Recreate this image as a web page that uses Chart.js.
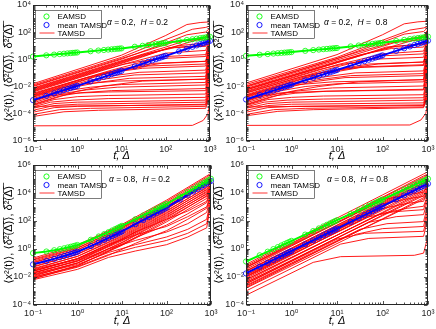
<!DOCTYPE html>
<html>
<head>
<meta charset="utf-8">
<script src="https://cdn.jsdelivr.net/npm/chart.js@4.4.1/dist/chart.umd.min.js"></script>
<style>
html,body{margin:0;padding:0;background:#ffffff;}
body{width:436px;height:329px;position:relative;overflow:hidden;}
canvas{position:absolute;}
</style>
</head>
<body>
<canvas id="pTL" width="218" height="163" style="left:0px;top:0px;width:218px;height:163px"></canvas>
<canvas id="pTR" width="226" height="163" style="left:210px;top:0px;width:226px;height:163px"></canvas>
<canvas id="pBL" width="218" height="168" style="left:0px;top:160px;width:218px;height:168px"></canvas>
<canvas id="pBR" width="226" height="168" style="left:210px;top:160px;width:226px;height:168px"></canvas>
<script>
// ---------- shared axis values ----------
const markerT = [0.1,0.2,0.3,0.4,0.5,0.6,0.7,0.8,0.9,1,2,3,4,5,6,7,8,9,10,20,30,40,50,60,70,80,90,100,200,300,400,500,600,700,800,900,1000];
const xTickVals = [0.1,1,10,100,1000];
const yTicksTop = [1e-6,1e-4,1e-2,1,1e2,1e4];
const yTicksBottom = [1e-4,1e-2,1,1e2,1e4,1e6];
const seriesNames = ['EAMSD','mean TAMSD','TAMSD'];
const paramAlpha = ['0.2','0.2','0.8','0.8'];
const paramH = ['0.2',' 0.8','0.2','0.8'];
const xTitle = 't, Δ';
const yTitle = '⟨x²(t)⟩, ⟨δ\u0305²\u0305(\u0305Δ\u0305)\u0305⟩, δ\u0305²\u0305(\u0305Δ\u0305)\u0305';

// ---------- panel 1: alpha=0.2, H=0.2 ----------
const eamsdTL = [1.58,1.95,2.20,2.40,2.57,2.71,2.84,2.96,3.06, 3.16,3.89,4.40,4.80,5.13,5.41,5.67,5.90,6.11, 6.31,8.32,9.79,11.0,12.0,12.9,13.7,14.5,15.2, 15.8,21.6,26.0,29.6,32.7,35.5,38.0,40.4,42.6, 44.7];
const meanTL = [1.00e-3,2.07e-3,3.17e-3,4.29e-3,5.42e-3,6.56e-3,7.71e-3,8.87e-3,1.00e-2, 1.12e-2,2.40e-2,3.76e-2,5.15e-2,6.59e-2,8.05e-2,9.55e-2,0.110,0.126, 0.141,0.303,0.473,0.649,0.830,1.01,1.20,1.39,1.58, 1.78,3.81,5.96,8.17,10.4,12.8,15.1,17.5,20.0, 22.4];
const tamsdTL = [
[[0.1,1.6e-2],[10,2],[100,56],[300,355],[600,500],[1000,560]],
[[0.1,1.3e-2],[10,1.4],[100,28],[400,160],[800,220],[1000,280]],
[[0.1,1e-2],[10,1],[100,16],[300,63],[800,100],[1000,200]],
[[0.1,7.9e-3],[100,7.9],[300,25],[800,45],[1000,140]],
[[0.1,1.1e-2],[30,3.5],[150,18],[800,32],[1000,110]],
[[0.1,6.3e-3],[50,3.2],[200,10],[800,16],[1000,71]],
[[0.1,5e-3],[30,1.5],[120,7.1],[800,11],[1000,63]],
[[0.1,7.1e-3],[8,0.56],[30,2.2],[160,7.1],[800,8.9],[1000,50]],
[[0.1,4e-3],[10,0.4],[20,0.71],[100,2.8],[800,4.5],[1000,40]],
[[0.1,3.2e-3],[6,0.16],[20,0.45],[100,1.6],[800,2.2],[1000,32]],
[[0.1,4.5e-3],[4,0.18],[12,0.45],[60,1.1],[800,1.6],[1000,25]],
[[0.1,2.5e-3],[3,7.9e-2],[10,0.2],[50,0.5],[800,0.71],[1000,18]],
[[0.1,2e-3],[2.5,5e-2],[8,0.13],[40,0.32],[800,0.45],[1000,13]],
[[0.1,2.8e-3],[1.6,4.5e-2],[5,0.1],[30,0.22],[800,0.32],[1000,7.9]],
[[0.1,1.6e-3],[1.6,2.5e-2],[5,5.6e-2],[25,0.11],[800,0.16],[1000,6.3]],
[[0.1,1.3e-3],[1.3,1.6e-2],[4,3.5e-2],[20,7.1e-2],[800,0.1],[1000,4]],
[[0.1,1e-3],[1,1e-2],[3,2e-2],[15,4e-2],[800,5.6e-2],[1000,2.5]],
[[0.1,1.8e-3],[0.5,8.9e-3],[1.5,1.6e-2],[8,2.5e-2],[800,3.5e-2],[1000,1.6]],
[[0.1,7.9e-4],[0.6,5e-3],[2,8.9e-3],[10,1.4e-2],[800,2e-2],[1000,1]],
[[0.1,6.3e-4],[0.5,3.2e-3],[1.6,5.6e-3],[8,8.9e-3],[800,1.3e-2],[1000,0.63]],
[[0.1,5e-4],[0.4,2e-3],[1.2,3.5e-3],[6,5e-3],[800,7.1e-3],[1000,0.4]],
[[0.1,8.9e-4],[0.22,2e-3],[0.8,3.2e-3],[5,4e-3],[800,5e-3],[1000,0.25]],
[[0.1,4e-4],[0.3,1.1e-3],[1,1.8e-3],[5,2.2e-3],[800,2.8e-3],[1000,0.13]],
[[0.1,3.2e-4],[0.25,7.1e-4],[0.8,1e-3],[5,1.3e-3],[800,1.6e-3],[1000,6.3e-2]],
[[0.1,2.5e-4],[0.3,5.6e-4],[1,7.1e-4],[800,1e-3],[1000,2.5e-2]],
[[0.1,1.8e-4],[0.3,4e-4],[1,5e-4],[800,7.1e-4],[1000,1e-2]],
[[0.1,1.3e-4],[0.3,2.8e-4],[1,3.5e-4],[800,5e-4],[1000,5e-3]],
[[0.1,8.9e-5],[0.4,2e-4],[2,2.5e-4],[800,3.5e-4],[1000,3.2e-3]],
[[0.1,6.3e-5],[0.5,1.4e-4],[3,1.8e-4],[800,2.5e-4],[1000,2e-3]],
[[0.1,3.5e-4],[800,4.5e-4],[1000,6.3e-3]],
[[0.1,1.3e-5],[400,1.4e-5],[700,3.2e-5],[900,1e-4],[1000,1e-3]],
[[0.1,5.6e-3],[100,5.6],[800,40],[1000,160]],
[[0.1,2.2e-3],[5,0.11],[15,0.22],[80,0.5],[800,0.71],[1000,10]],
[[0.1,4.5e-4],[1,4.5e-3],[4,1.1e-2],[30,2.5e-2],[800,3.5e-2],[1000,3.2]]
];

// ---------- panel 2: alpha=0.2, H=0.8 ----------
const eamsdTR = [1.78,2.16,2.42,2.62,2.79,2.94,3.07,3.18,3.29, 3.39,4.17,4.71,5.14,5.50,5.80,6.08,6.33,6.55, 6.76,8.80,10.3,11.4,12.5,13.4,14.2,14.9,15.6, 16.2,22.1,26.6,30.2,33.4,36.3,38.9,41.3,43.5, 45.7];
const meanTR = [1.12e-3,2.37e-3,3.68e-3,5.01e-3,6.38e-3,7.77e-3,9.18e-3,1.06e-2,1.20e-2, 1.35e-2,2.85e-2,4.42e-2,6.03e-2,7.67e-2,9.34e-2,0.110,0.127,0.145, 0.162,0.343,0.531,0.725,0.922,1.12,1.33,1.53,1.74, 1.95,4.12,6.39,8.71,11.1,13.5,16.0,18.4,20.9, 23.4];
const tamsdTR = [
[[0.1,1.8e-2],[10,2.2],[100,63],[300,400],[600,560],[1000,630]],
[[0.1,1.4e-2],[10,1.4],[100,25],[400,140],[800,200],[1000,250]],
[[0.1,1e-2],[10,1.1],[100,18],[300,70],[800,110],[1000,220]],
[[0.1,8.9e-3],[100,8.9],[300,28],[800,50],[1000,160]],
[[0.1,1.1e-2],[30,3.5],[150,16],[800,28],[1000,100]],
[[0.1,6.3e-3],[40,2.5],[200,9],[800,14],[1000,63]],
[[0.1,5.6e-3],[30,1.7],[120,7.9],[800,12],[1000,71]],
[[0.1,7.1e-3],[8,0.56],[30,2],[160,6.3],[800,7.9],[1000,45]],
[[0.1,4e-3],[10,0.4],[25,0.8],[100,2.5],[800,4],[1000,35]],
[[0.1,3.5e-3],[6,0.18],[20,0.5],[100,1.8],[800,2.5],[1000,32]],
[[0.1,4.5e-3],[4,0.18],[12,0.4],[60,1],[800,1.4],[1000,22]],
[[0.1,2.5e-3],[3,7.9e-2],[10,0.18],[50,0.45],[800,0.63],[1000,16]],
[[0.1,2e-3],[2.5,5e-2],[8,0.11],[40,0.28],[800,0.4],[1000,12]],
[[0.1,3.2e-3],[1.6,5e-2],[5,0.11],[30,0.25],[800,0.35],[1000,8.9]],
[[0.1,1.6e-3],[1.6,2.5e-2],[5,5e-2],[25,0.1],[800,0.14],[1000,5.6]],
[[0.1,1.3e-3],[1.3,1.6e-2],[4,3.2e-2],[20,6.3e-2],[800,8.9e-2],[1000,3.5]],
[[0.1,1e-3],[1,1e-2],[3,2.2e-2],[15,4.5e-2],[800,6.3e-2],[1000,2.8]],
[[0.1,1.8e-3],[0.5,8.9e-3],[1.5,1.4e-2],[8,2.2e-2],[800,3.2e-2],[1000,1.4]],
[[0.1,7.9e-4],[0.6,5e-3],[2,1e-2],[10,1.6e-2],[800,2.2e-2],[1000,1.1]],
[[0.1,6.3e-4],[0.5,3.2e-3],[1.6,5e-3],[8,7.9e-3],[800,1.1e-2],[1000,0.56]],
[[0.1,5e-4],[0.4,2e-3],[1.2,3.2e-3],[6,4.5e-3],[800,6.3e-3],[1000,0.35]],
[[0.1,8.9e-4],[0.22,2e-3],[0.8,3.5e-3],[5,4.5e-3],[800,5.6e-3],[1000,0.28]],
[[0.1,4e-4],[0.3,1.1e-3],[1,1.6e-3],[5,2e-3],[800,2.5e-3],[1000,0.11]],
[[0.1,3.2e-4],[0.25,7.1e-4],[0.8,1e-3],[5,1.2e-3],[800,1.5e-3],[1000,5.6e-2]],
[[0.1,2.5e-4],[0.3,5.6e-4],[1,7.1e-4],[800,1e-3],[1000,2.2e-2]],
[[0.1,1.8e-4],[0.3,4e-4],[1,5e-4],[800,6.3e-4],[1000,8.9e-3]],
[[0.1,1.3e-4],[0.3,2.8e-4],[1,3.5e-4],[800,4.5e-4],[1000,4.5e-3]],
[[0.1,8.9e-5],[0.4,2e-4],[2,2.5e-4],[800,3.2e-4],[1000,2.8e-3]],
[[0.1,7.1e-5],[0.5,1.5e-4],[3,2e-4],[800,2.8e-4],[1000,2.2e-3]],
[[0.1,3.2e-4],[800,4e-4],[1000,5.6e-3]],
[[0.1,1.4e-5],[400,1.5e-5],[700,3.5e-5],[900,1.1e-4],[1000,1.1e-3]],
[[0.1,5.6e-3],[100,5.6],[800,40],[1000,150]],
[[0.1,2.2e-3],[5,0.11],[15,0.2],[80,0.45],[800,0.63],[1000,9]],
[[0.1,4.5e-4],[1,4.5e-3],[4,1e-2],[30,2.2e-2],[800,3.2e-2],[1000,2.8]]
];

// ---------- panel 3: alpha=0.8, H=0.2 ----------
const eamsdBL = [0.501,0.655,0.807,0.959,1.11,1.27,1.42,1.58,1.74, 1.91,4.54,7.78,11.6,15.9,20.7,26.0,31.8,38.0, 44.7,131,245,383,541,718,912,1122,1346, 1585,5521,11455,19230,28710,39900,52600,67000,82800, 100000];
const meanBL = [0.0794,0.138,0.196,0.255,0.314,0.375,0.438,0.500,0.565, 0.631,1.60,2.84,4.34,6.05,7.98,10.1,12.5,15.0, 17.8,57.8,115,188,274,374,486,610,745, 891,3327,7178,12420,18970,26800,35970,46340,57940, 70800];
const tamsdGridBL = [0.1,1,10,100,800,1000];
const tamsdMainBL = [
[0.22,1.9,56,3000,1.6e5,2.5e5],
[0.18,1.5,45,2400,1.3e5,2.0e5],
[0.16,1.2,32,1500,7.1e4,1.1e5],
[0.13,1.1,34,1900,1.0e5,1.6e5],
[0.11,0.84,22,1100,5.0e4,7.9e4],
[0.1,0.87,27,1400,7.9e4,1.3e5],
[0.079,0.6,16,750,3.5e4,5.6e4],
[0.071,0.62,19,1100,5.6e4,8.9e4],
[0.056,0.41,11,550,2.2e4,4.5e4],
[0.05,0.44,13,690,4.0e4,6.3e4],
[0.04,0.29,7.5,390,1.6e4,3.2e4],
[0.035,0.3,8.9,480,2.5e4,5.0e4],
[0.028,0.2,5.3,280,1.1e4,2.8e4],
[0.025,0.21,6.3,340,1.8e4,3.5e4],
[0.02,0.14,3.8,200,7.9e3,2.5e4],
[0.018,0.15,4.5,240,1.3e4,3.2e4],
[0.014,0.1,2.7,140,5.6e3,2.2e4],
[0.011,0.098,3.0,170,8.9e3,2.8e4],
[0.0089,0.066,1.8,85,4.0e3,2.0e4],
[0.0071,0.063,2.0,110,6.3e3,2.5e4]
];
const tamsdLowBL = [
[[0.1,0.032],[1,0.2],[5,2.0],[20,10],[100,40],[300,200],[800,1000],[1000,1e4]],
[[0.1,0.02],[1,0.13],[5,1],[20,4],[100,16],[300,63],[800,400],[1000,6300]],
[[0.1,0.013],[1,0.079],[5,0.56],[20,2],[100,7.1],[300,25],[800,130],[1000,4000]],
[[0.1,0.01],[1,0.056],[5,0.4],[20,1.3],[100,4],[300,13],[800,63],[1000,2500]],
[[0.1,0.0063],[1,0.035],[5,0.25],[20,0.71],[100,2],[300,7.1],[800,32],[1000,2000]],
[[0.1,0.025],[1,0.18],[5,1.6],[20,16],[100,130],[300,500],[800,2500],[1000,2e4]],
[[0.1,0.016],[1,0.1],[5,0.79],[20,6.3],[100,50],[300,320],[800,2000],[1000,1.3e4]],
[[0.1,0.0079],[1,0.05],[5,0.35],[20,2.5],[100,20],[300,130],[800,790],[1000,7900]]
];

// ---------- panel 4: alpha=0.8, H=0.8 ----------
const eamsdBR = [0.126,0.350,0.637,0.974,1.35,1.77,2.22,2.71,3.22, 3.76,10.5,19.0,29.1,40.4,52.8,66.3,80.8,96.1, 112,311,566,866,1203,1574,1976,2406,2862, 3350,9313,16930,25900,35980,47070,59090,71960,85590, 100000];
const meanBR = [0.0178,0.0540,0.103,0.164,0.234,0.313,0.401,0.496,0.599, 0.708,2.15,4.11,6.51,9.30,12.4,15.9,19.7,23.8, 28.2,85.5,164,259,370,496,635,786,948, 1122,3401,6508,10310,14730,19720,25250,31260,37730, 44670];
const tamsdGridBR = [0.1,1,10,100,800,1000];
const tamsdMainBR = [
[0.079,3.5,160,7100,2.2e5,3.2e5],
[0.063,2.6,110,4400,1.3e5,1.8e5],
[0.05,2.3,110,4900,1.6e5,2.2e5],
[0.045,1.8,71,2800,7.9e4,1.1e5],
[0.035,1.6,71,3200,1.0e5,1.4e5],
[0.028,1.15,48,1900,5.6e4,7.9e4],
[0.025,1.1,50,2200,7.1e4,1.0e5],
[0.02,0.81,34,1400,4.0e4,5.6e4],
[0.018,0.79,35,1600,5.0e4,7.1e4],
[0.014,0.58,24,980,2.8e4,4.5e4],
[0.011,0.5,22,1000,3.2e4,5.0e4],
[0.01,0.39,15,580,1.6e4,2.8e4],
[0.0079,0.35,16,710,2.2e4,4.0e4],
[0.0063,0.25,9.4,360,1.0e4,2.0e4],
[0.005,0.22,9.4,410,1.3e4,2.5e4],
[0.004,0.15,6.0,230,6.3e3,1.4e4],
[0.0032,0.14,6.0,260,7.9e3,1.8e4],
[0.0022,0.087,3.4,130,3.5e3,1.0e4],
[0.0018,0.078,3.4,140,4.5e3,1.3e4]
];
const tamsdLowBR = [
[[0.1,0.05],[100,3.2e3],[400,7.9e3],[800,1.1e4],[1000,3.2e4]],
[[0.1,0.025],[100,1.6e3],[400,4.0e3],[800,5.6e3],[1000,2.0e4]],
[[0.1,0.013],[90,710],[360,1.8e3],[800,2.5e3],[1000,1.6e4]],
[[0.1,0.0063],[90,320],[350,790],[800,1.1e3],[1000,7.9e3]],
[[0.1,0.01],[45,180],[180,450],[800,630],[1000,6.3e3]],
[[0.1,0.004],[50,79],[200,200],[800,280],[1000,4.0e3]],
[[0.1,0.0025],[32,25],[125,63],[800,89],[1000,1.6e3]],
[[0.1,0.0016],[26,11],[100,28],[800,40],[1000,790]],
[[0.1,0.0032],[10,5],[40,13],[800,18],[1000,400]],
[[0.1,0.001],[12,2.2],[50,5.6],[800,7.9],[1000,160]],
[[0.1,5e-4],[3,0.11],[12,0.28],[500,0.35],[800,0.5],[1000,7.9]]
];

// ---------- drawing ----------
const FONT = "'Liberation Sans','DejaVu Sans',Arial,sans-serif";
const SUP = {'-':'\u207B','0':'\u2070','1':'\u00B9','2':'\u00B2','3':'\u00B3','4':'\u2074','5':'\u2075','6':'\u2076','7':'\u2077','8':'\u2078','9':'\u2079'};
function powLabel(v){const e=Math.round(Math.log10(v));return '10'+String(e).split('').map(c=>SUP[c]).join('');}
const AX = '#262626';
const GREEN = '#00ff00', BLUE = '#0000ff', RED = '#ff0000';

const framePlugin = {
  id:'frame',
  afterDatasetsDraw(chart, args, o){
    const {ctx, chartArea:ca, scales:{x, y}} = chart;
    ctx.save();
    const L = Math.round(ca.left)+0.5, R = Math.round(ca.right)-0.5, T = Math.round(ca.top)+0.5, B = Math.round(ca.bottom)-0.5;
    ctx.strokeStyle = AX; ctx.lineWidth = 1;
    ctx.strokeRect(L, T, R-L, B-T);
    ctx.lineWidth = 0.8;
    ctx.beginPath();
    for (let k=-1;k<=3;k++) for (let m=1;m<=9;m++){
      const v = m*Math.pow(10,k); if (v>1000.0001) continue;
      const px = Math.round(x.getPixelForValue(v))+0.5; const len = m===1?3.5:2;
      ctx.moveTo(px,B); ctx.lineTo(px,B-len); ctx.moveTo(px,T); ctx.lineTo(px,T+len);
    }
    const e0 = Math.round(Math.log10(o.ymin)), e1 = Math.round(Math.log10(o.ymax));
    for (let k=e0;k<=e1;k++) for (let m=1;m<=9;m++){
      const v = m*Math.pow(10,k); if (v>o.ymax*1.0001) continue;
      const py = Math.round(y.getPixelForValue(v))+0.5; const len = (m===1 && (k-e0)%2===0)?3.5:2;
      ctx.moveTo(L,py); ctx.lineTo(L+len,py); ctx.moveTo(R,py); ctx.lineTo(R-len,py);
    }
    ctx.stroke();
    // legend box
    const lx = Math.round(ca.left)+2.5, ly = Math.round(ca.top)+5.5, lw = 66, lh = 28;
    ctx.fillStyle = '#fff'; ctx.fillRect(lx, ly, lw, lh);
    ctx.strokeStyle = AX; ctx.lineWidth = 0.6; ctx.strokeRect(lx, ly, lw, lh);
    const rows = [ly+6, ly+14.5, ly+22.5];
    ctx.lineWidth = 0.9;
    ctx.strokeStyle = GREEN; ctx.beginPath(); ctx.arc(lx+11, rows[0], 2.6, 0, 2*Math.PI); ctx.stroke();
    ctx.strokeStyle = BLUE; ctx.beginPath(); ctx.arc(lx+11, rows[1], 2.6, 0, 2*Math.PI); ctx.stroke();
    ctx.strokeStyle = RED; ctx.lineWidth = 0.8; ctx.beginPath(); ctx.moveTo(lx+4, rows[2]); ctx.lineTo(lx+19, rows[2]); ctx.stroke();
    ctx.fillStyle = '#000'; ctx.font = '8px '+FONT; ctx.textBaseline = 'middle'; ctx.textAlign = 'left';
    seriesNames.forEach((n,i)=>ctx.fillText(n, lx+22, rows[i]+0.5));
    // parameter annotation
    const parts = [['α',true],[' = '+o.alpha+',  ',false],['H',true],[' = '+o.H,false]];
    let cx = ca.left + o.annoDx; const cy = ca.top + o.annoDy;
    parts.forEach(([t,it])=>{ctx.font=(it?'italic ':'')+'8.5px '+FONT; ctx.fillText(t,cx,cy); cx+=ctx.measureText(t).width;});
    ctx.restore();
  }
};

function makePanel(p){
  const datasets = [];
  datasets.push({label:seriesNames[0], data:markerT.map((t,i)=>({x:t,y:p.eamsd[i]})), borderColor:GREEN, borderWidth:2,
    pointRadius:2.6, pointBorderWidth:0.8, pointBorderColor:GREEN, pointBackgroundColor:'rgba(0,0,0,0)', order:0, clip:false});
  datasets.push({label:seriesNames[1], data:markerT.map((t,i)=>({x:t,y:p.mean[i]})), borderColor:BLUE, borderWidth:2,
    pointRadius:2.6, pointBorderWidth:0.8, pointBorderColor:BLUE, pointBackgroundColor:'rgba(0,0,0,0)', order:1, clip:false});
  p.curves.forEach(c=>datasets.push({label:seriesNames[2], data:c.map(q=>({x:q[0],y:q[1]})), borderColor:RED, borderWidth:0.9,
    pointRadius:0, order:2, tension:0}));
  new Chart(document.getElementById(p.id), {
    type:'line',
    data:{datasets},
    options:{
      responsive:false, maintainAspectRatio:false, animation:false, devicePixelRatio:1, events:[],
      layout:{padding:p.pad},
      plugins:{legend:{display:false}, tooltip:{enabled:false},
        frame:{ymin:p.ymin, ymax:p.ymax, alpha:p.alpha, H:p.H, annoDx:p.annoDx, annoDy:p.annoDy}},
      scales:{
        x:{type:'logarithmic', position:'bottom', min:0.1, max:1000,
          grid:{display:false, drawTicks:false}, border:{display:false},
          ticks:{autoSkip:false, maxRotation:0, minRotation:0, padding:3, color:AX, font:{size:9, family:FONT}, callback:v=>powLabel(v)},
          afterBuildTicks:s=>{s.ticks = xTickVals.map(v=>({value:v}));},
          afterFit:s=>{s.height = p.xH; s.paddingLeft = 0; s.paddingRight = 0;},
          title:{display:true, text:xTitle, color:'#000', font:{size:11, family:FONT, style:'italic'}, padding:{top:0,bottom:0}}},
        y:{type:'logarithmic', position:'left', min:p.ymin, max:p.ymax,
          grid:{display:false, drawTicks:false}, border:{display:false},
          ticks:{autoSkip:false, padding:2, color:AX, font:{size:9, family:FONT}, callback:v=>powLabel(v)},
          afterBuildTicks:s=>{s.ticks = p.yTicks.map(v=>({value:v}));},
          afterFit:s=>{s.width = p.yW; s.paddingTop = 0; s.paddingBottom = 0;},
          title:{display:true, text:yTitle, color:'#000', font:{size:11, family:FONT}, padding:{top:2,bottom:0}}}
      }
    },
    plugins:[framePlugin]
  });
}

makePanel({id:'pTL', eamsd:eamsdTL, mean:meanTL, curves:tamsdTL, ymin:1e-6, ymax:1e4, yTicks:yTicksTop,
  pad:{left:0,right:8,top:4,bottom:0}, yW:33, xH:22, alpha:paramAlpha[0], H:paramH[0], annoDx:74, annoDy:18});
makePanel({id:'pTR', eamsd:eamsdTR, mean:meanTR, curves:tamsdTR, ymin:1e-6, ymax:1e4, yTicks:yTicksTop,
  pad:{left:0,right:8,top:4,bottom:0}, yW:36, xH:22, alpha:paramAlpha[1], H:paramH[1], annoDx:78, annoDy:18});
makePanel({id:'pBL', eamsd:eamsdBL, mean:meanBL,
  curves:tamsdMainBL.map(r=>tamsdGridBL.map((t,i)=>[t,r[i]])).concat(tamsdLowBL),
  ymin:1e-4, ymax:1e6, yTicks:yTicksBottom,
  pad:{left:0,right:7,top:4,bottom:0}, yW:33, xH:23, alpha:paramAlpha[2], H:paramH[2], annoDx:76, annoDy:15});
makePanel({id:'pBR', eamsd:eamsdBR, mean:meanBR,
  curves:tamsdMainBR.map(r=>tamsdGridBR.map((t,i)=>[t,r[i]])).concat(tamsdLowBR),
  ymin:1e-4, ymax:1e6, yTicks:yTicksBottom,
  pad:{left:0,right:8,top:4,bottom:0}, yW:36, xH:23, alpha:paramAlpha[3], H:paramH[3], annoDx:81, annoDy:15});
</script>
</body>
</html>
